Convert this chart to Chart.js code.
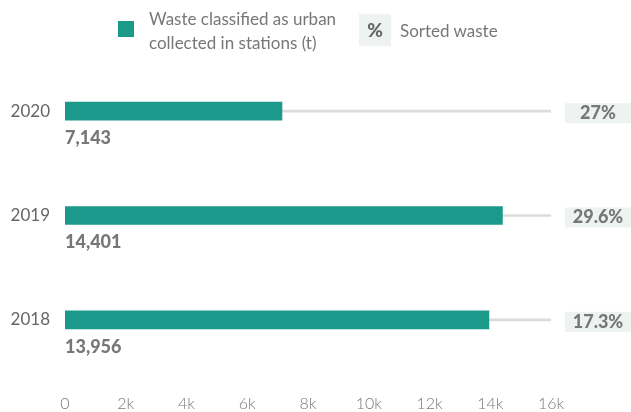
<!DOCTYPE html>
<html>
<head>
<meta charset="utf-8">
<script src="https://cdn.jsdelivr.net/npm/chart.js@4.4.1/dist/chart.umd.min.js"></script>
<style>
  body { margin: 0; background: #fff; font-family: Lato, sans-serif; }
  #wrap { position: relative; width: 631px; height: 412px; }
  #chart { position: absolute; left: 0; top: 0; }
  .legend { position: absolute; color: #777; font-size: 17px; line-height: 24px; }
  .swatch { position: absolute; left: 118px; top: 21px; width: 16px; height: 16px; background: #1b998b; }
  .pct { position: absolute; left: 359px; top: 14px; width: 32px; height: 32px; background: #eef3f2;
         color: #666; font-weight: 900; font-size: 19px; line-height: 32px; text-align: center; }
</style>
</head>
<body>
<div id="wrap">
  <canvas id="chart" width="631" height="412"></canvas>
  <div class="swatch"></div>
  <div class="legend" style="left:149px; top:7px;">Waste classified as urban<br>collected in stations (t)</div>
  <div class="pct">%</div>
  <div class="legend" style="left:400px; top:19px;">Sorted waste</div>
</div>
<script>
const years = ['2020', '2019', '2018'];
const wasteTonnes = [7143, 14401, 13956];
const sortedShare = ['27%', '29.6%', '17.3%'];
const axisMax = 16000;
const tickStep = 2000;

const teal = '#1b998b';
const grey = '#777';

const labelPlugin = {
  id: 'rowLabels',
  afterDatasetsDraw(chart) {
    const ctx = chart.ctx;
    const meta = chart.getDatasetMeta(0);
    const area = chart.chartArea;
    ctx.save();
    meta.data.forEach((bar, i) => {
      // value under the bar
      ctx.fillStyle = grey;
      ctx.font = '900 18px Lato, sans-serif';
      ctx.textAlign = 'left';
      ctx.textBaseline = 'middle';
      ctx.fillText(wasteTonnes[i].toLocaleString('en-US'), bar.base, bar.y + 27);

      // sorted waste box on the right
      const bx = area.right + 14;
      ctx.fillStyle = '#eef3f2';
      ctx.fillRect(bx, bar.y - 8, chart.width - bx, 20);
      ctx.fillStyle = grey;
      ctx.font = '900 18px Lato, sans-serif';
      ctx.textAlign = 'center';
      ctx.fillText(sortedShare[i], bx + 33, bar.y + 2);
    });
    ctx.restore();
  }
};

new Chart(document.getElementById('chart'), {
  type: 'bar',
  data: {
    labels: years,
    datasets: [{
      label: 'Waste classified as urban collected in stations (t)',
      data: wasteTonnes,
      backgroundColor: teal,
      barThickness: 18,
      grouped: false,
      order: 0
    }, {
      label: 'track',
      data: years.map(() => axisMax),
      backgroundColor: '#dcdcdc',
      barThickness: 2,
      grouped: false,
      order: 1
    }]
  },
  options: {
    indexAxis: 'y',
    responsive: false,
    animation: false,
    layout: { padding: { top: 59, right: 80, left: 0, bottom: 0 } },
    scales: {
      x: {
        min: 0,
        max: axisMax,
        grid: { display: false, drawTicks: false },
        border: { display: false },
        afterFit(scale) { scale.height = 40; },
        ticks: {
          stepSize: tickStep,
          padding: 22,
          color: grey,
          font: { family: 'Lato', size: 16, weight: 300 },
          callback: v => v === 0 ? '0' : (v / 1000) + 'k'
        }
      },
      y: {
        grid: { display: false, drawTicks: false },
        border: { display: false },
        afterFit(scale) { scale.width = 65; },
        ticks: {
          padding: 15,
          color: '#666',
          font: { family: 'Lato', size: 17 }
        }
      }
    },
    plugins: {
      legend: { display: false },
      tooltip: { enabled: false }
    }
  },
  plugins: [labelPlugin]
});
</script>
</body>
</html>
